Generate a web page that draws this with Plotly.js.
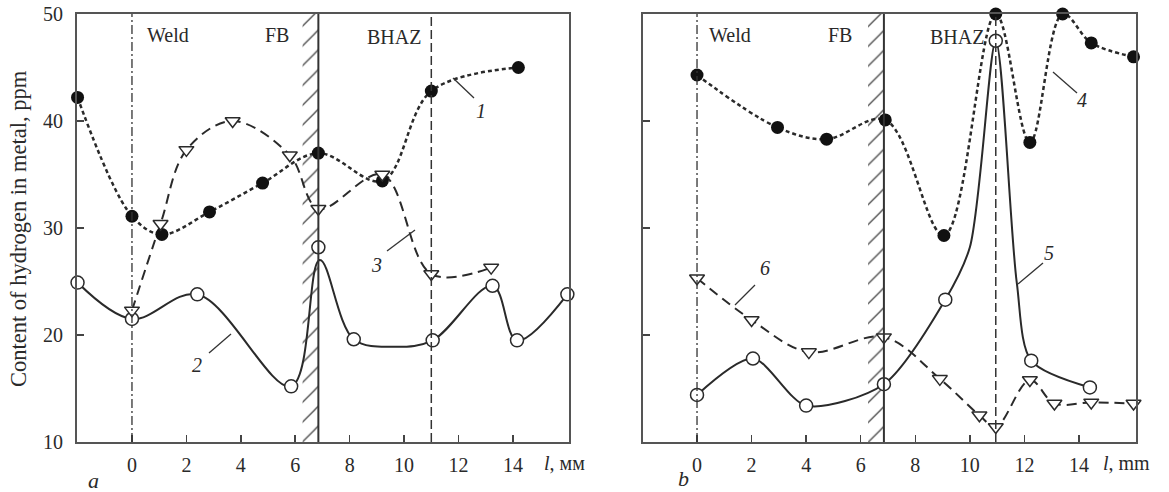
<!DOCTYPE html>
<html>
<head>
<meta charset="utf-8">
<script src="https://cdn.plot.ly/plotly-3.0.1.min.js"></script>
<style>html,body{margin:0;padding:0;background:#fff;}#chart{width:1169px;height:492px;}</style>
</head>
<body>
<div id="chart"></div>
<script>
// ---------- data ----------
const xTicks = [0, 2, 4, 6, 8, 10, 12, 14];
const yTicks = [10, 20, 30, 40, 50];
const yTicksRight = [20, 30, 40];

// Panel a
const s1x = [-2, 0, 1.1, 2.85, 4.8, 6.85, 9.2, 11.0, 14.2];
const s1y = [42.2, 31.1, 29.4, 31.5, 34.2, 37.0, 34.4, 42.8, 45.0];
const s2x = [-2, 0, 2.4, 5.85, 6.85, 8.15, 11.05, 13.25, 14.15, 16.0];
const s2y = [24.9, 21.5, 23.8, 15.2, 28.2, 19.6, 19.5, 24.6, 19.5, 23.8];
const s2lineX = [-2, 0, 2.4, 5.85, 6.9, 8.15, 9.7, 11.05, 13.25, 14.15, 16.0];
const s2lineY = [24.9, 21.5, 23.8, 15.2, 27.0, 19.6, 18.9, 19.5, 24.6, 19.5, 23.8];
const s3x = [0, 1.05, 2.0, 3.7, 5.8, 6.85, 9.2, 11.0, 13.2];
const s3y = [22.3, 30.4, 37.3, 40.0, 36.8, 31.8, 35.0, 25.7, 26.3];

// Panel b
const s4x = [0, 2.95, 4.75, 6.9, 9.05, 10.95, 12.2, 13.4, 14.45, 16.0];
const s4y = [44.3, 39.4, 38.3, 40.1, 29.3, 50.0, 38.0, 50.0, 47.3, 46.0];
const s5x = [0, 2.05, 4.0, 6.85, 9.1, 10.95, 12.25, 14.4];
const s5y = [14.4, 17.8, 13.4, 15.4, 23.3, 47.5, 17.6, 15.1];
const s5lineX = [0, 2.05, 4.0, 6.85, 9.1, 10.0, 10.95, 11.72, 12.25, 14.4];
const s5lineY = [14.4, 17.8, 13.4, 15.4, 23.3, 28.2, 47.5, 24.9, 17.6, 15.1];
const s6x = [0, 2.0, 4.1, 6.85, 8.9, 10.35, 10.95, 12.2, 13.1, 14.45, 16.0];
const s6y = [25.3, 21.4, 18.4, 19.8, 15.9, 12.5, 11.4, 15.8, 13.6, 13.7, 13.6];

// zone boundaries
const weldX = [0, 0];
const fbX = [6.85, 6.85];
const bhazX = [11.0, 10.95];
const hatchStart = [6.27, 6.27];
const zoneNames = ["Weld", "FB", "BHAZ"];
const curveLabels = ["1", "2", "3", "4", "5", "6"];

// ---------- styling ----------
const W = 1169, H = 492;
const FONT = "Liberation Serif, Times New Roman, serif";
const INK = "#2a2a2a";
const px = v => v / W;
const py = v => 1 - v / H;

const dotted = {color: INK, width: 2.5, dash: "4px,3px", shape: "spline", smoothing: 1};
const dashed = {color: INK, width: 2, dash: "10px,6px", shape: "spline", smoothing: 1};
const solid = {color: INK, width: 2, shape: "spline", smoothing: 1};

function lineTrace(x, y, line, ax) {
  return {type: "scatter", mode: "lines", x: x, y: y, line: line,
          xaxis: ax[0], yaxis: ax[1], hoverinfo: "skip"};
}
function markTrace(x, y, kind, ax) {
  let marker;
  if (kind === "filled") marker = {symbol: "circle", size: 13, color: "#111", line: {width: 0}};
  else if (kind === "circle") marker = {symbol: "circle", size: 13, color: "#fff", line: {color: INK, width: 1.5}};
  else marker = {symbol: "triangle-down", size: 13, color: "#fff", line: {color: INK, width: 1.5}};
  return {type: "scatter", mode: "markers", x: x, y: y, marker: marker,
          xaxis: ax[0], yaxis: ax[1], cliponaxis: false, hoverinfo: "skip"};
}
function hatch(i, ax) {
  const w = fbX[i] - hatchStart[i];
  return {type: "bar", x: [hatchStart[i] + w / 2], y: [40], base: [10], width: [w],
          xaxis: ax[0], yaxis: ax[1], hoverinfo: "skip",
          marker: {color: "rgba(0,0,0,0)", line: {width: 0},
                   pattern: {shape: "/", fgcolor: "#444", bgcolor: "rgba(0,0,0,0)", size: 14, solidity: 0.09}}};
}

const A = ["x", "y"], B = ["x2", "y2"];
const traces = [
  hatch(0, A), hatch(1, B),
  lineTrace(s1x, s1y, dotted, A),
  lineTrace(s2lineX, s2lineY, solid, A),
  lineTrace(s3x, s3y, dashed, A),
  lineTrace(s4x, s4y, dotted, B),
  lineTrace(s5lineX, s5lineY, Object.assign({}, solid, {smoothing: 0.8}), B),
  lineTrace(s6x, s6y, dashed, B),
  markTrace(s1x, s1y, "filled", A),
  markTrace(s2x, s2y, "circle", A),
  markTrace(s3x, s3y, "tri", A),
  markTrace(s4x, s4y, "filled", B),
  markTrace(s5x, s5y, "circle", B),
  markTrace(s6x, s6y, "tri", B)
];

const tickFont = {family: FONT, size: 20, color: INK};
function xAxis(domain, range, anchor) {
  return {domain: domain, range: range, tickvals: xTicks, ticks: "inside", ticklen: 7, tickwidth: 1.5,
          tickcolor: "#444", showline: true, mirror: true, linecolor: "#555", linewidth: 2,
          showgrid: false, zeroline: false, anchor: anchor, tickfont: tickFont,
          ticklabelstandoff: 4, fixedrange: true};
}
function yAxis(domain, vals, anchor, labels) {
  return {domain: domain, range: [10, 50], tickvals: vals, ticks: "inside", ticklen: 7, tickwidth: 1.5,
          tickcolor: "#444", showline: true, mirror: true, linecolor: "#555", linewidth: 2,
          showgrid: false, zeroline: false, anchor: anchor, tickfont: tickFont,
          showticklabels: labels, ticklabelstandoff: 8, fixedrange: true};
}
const yDom = [py(442), py(14)];

const shapes = [];
[["x", 0], ["x2", 1]].forEach(([xr, i]) => {
  shapes.push({type: "line", xref: xr, yref: "paper", x0: weldX[i], x1: weldX[i], y0: yDom[0], y1: yDom[1],
               line: {color: "#333", width: 1.3, dash: "9px,3px,2px,3px"}});
  shapes.push({type: "line", xref: xr, yref: "paper", x0: fbX[i], x1: fbX[i], y0: yDom[0], y1: yDom[1],
               line: {color: "#333", width: 2}});
  shapes.push({type: "line", xref: xr, yref: "paper", x0: bhazX[i], x1: bhazX[i], y0: yDom[0], y1: yDom[1],
               line: {color: "#333", width: 1.5, dash: "9px,4px"}});
});
// leader lines for curve labels (pixel positions)
const leaders = [[453, 78, 474, 98], [209, 353, 231, 334], [387, 251, 415, 230],
                 [1053, 72, 1077, 93], [1018, 284, 1043, 263], [735, 305, 755, 285]];
leaders.forEach(l => shapes.push({type: "line", xref: "paper", yref: "paper",
  x0: px(l[0]), y0: py(l[1]), x1: px(l[2]), y1: py(l[3]), line: {color: "#333", width: 1.3}}));

const txt = (t, x, y, opts) => Object.assign({text: t, xref: "paper", yref: "paper", x: px(x), y: py(y),
  showarrow: false, xanchor: "center", yanchor: "middle",
  font: {family: FONT, size: 20, color: INK}}, opts || {});
const labelPos = [[481, 111], [197, 365], [376, 265], [1082, 100], [1049, 253], [765, 268]];
const annotations = [
  txt(zoneNames[0], 168, 35), txt(zoneNames[1], 277, 35), txt(zoneNames[2], 394, 37),
  txt(zoneNames[0], 730, 35), txt(zoneNames[1], 840, 35), txt(zoneNames[2], 957, 37),
  txt("Content of hydrogen in metal, ppm", 18, 229, {textangle: -90, font: {family: FONT, size: 22.5, color: INK}}),
  txt("<i>l</i>, мм", 542, 463, {xanchor: "left"}),
  txt("<i>l</i>, mm", 1101, 463, {xanchor: "left"}),
  txt("<i>a</i>", 93, 480, {font: {family: FONT, size: 22, color: INK}}),
  txt("<i>b</i>", 683, 478, {font: {family: FONT, size: 22, color: INK}})
];
curveLabels.forEach((c, i) => annotations.push(txt("<i>" + c + "</i>", labelPos[i][0], labelPos[i][1])));

const layout = {
  width: W, height: H, margin: {l: 0, r: 0, t: 0, b: 0},
  paper_bgcolor: "#fff", plot_bgcolor: "#fff", showlegend: false,
  barmode: "overlay",
  xaxis: xAxis([px(77), px(569)], [-2.02, 16.06], "y"),
  yaxis: yAxis(yDom, yTicks, "x", true),
  xaxis2: xAxis([px(643), px(1136)], [-1.98, 16.09], "y2"),
  yaxis2: yAxis(yDom, yTicksRight, "x2", false),
  shapes: shapes, annotations: annotations
};
Plotly.newPlot("chart", traces, layout, {staticPlot: true, displayModeBar: false});
</script>
</body>
</html>
